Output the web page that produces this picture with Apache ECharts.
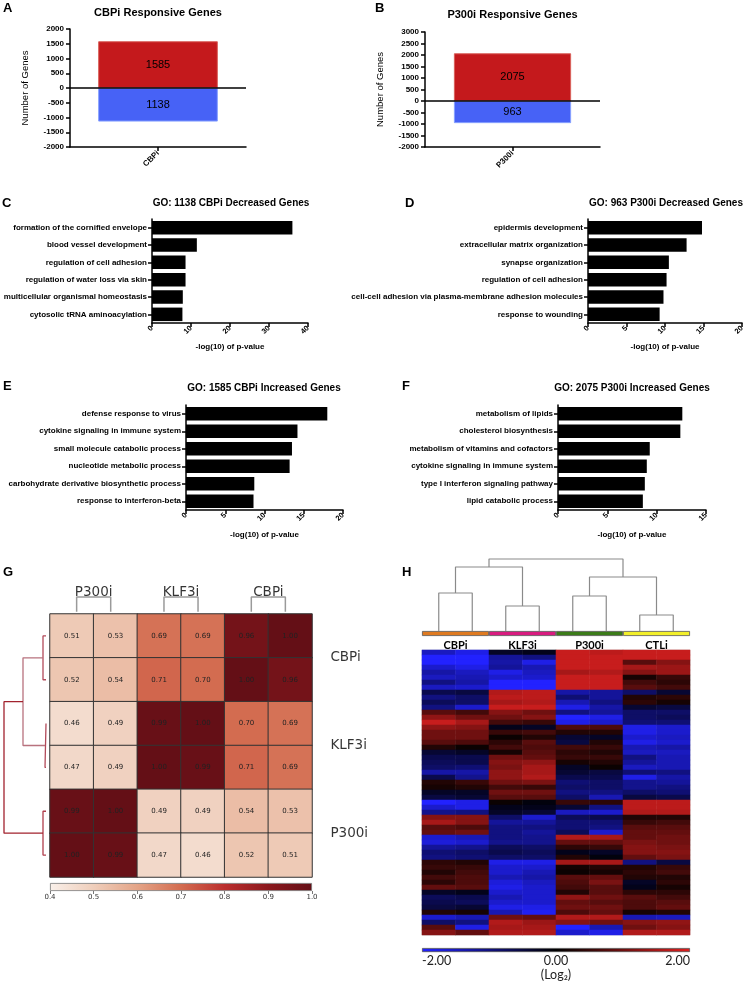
<!DOCTYPE html>
<html><head><meta charset="utf-8">
<script src="https://cdn.jsdelivr.net/npm/echarts@6/dist/echarts.min.js"></script>
<style>html,body{margin:0;padding:0;background:#fff}#c{width:747px;height:982px}</style>
</head><body><div id="c"></div>
<script>
// ---------------- DATA ----------------
const aCategories = ['CBPi'];
const aIncreased = [1585];
const aDecreased = [-1138];
const aRange = [-2000, 2000];

const bCategories = ['P300i'];
const bIncreased = [2075];
const bDecreased = [-963];
const bRange = [-2000, 3000];

const cTerms = ['formation of the cornified envelope','blood vessel development','regulation of cell adhesion','regulation of water loss via skin','multicellular organismal homeostasis','cytosolic tRNA aminoacylation'];
const cValues = [36.0, 11.5, 8.6, 8.6, 7.9, 7.8];
const dTerms = ['epidermis development','extracellular matrix organization','synapse organization','regulation of cell adhesion','cell-cell adhesion via plasma-membrane adhesion molecules','response to wounding'];
const dValues = [14.8, 12.8, 10.5, 10.2, 9.8, 9.3];
const eTerms = ['defense response to virus','cytokine signaling in immune system','small molecule catabolic process','nucleotide metabolic process','carbohydrate derivative biosynthetic process','response to interferon-beta'];
const eValues = [18.0, 14.2, 13.5, 13.2, 8.7, 8.6];
const fTerms = ['metabolism of lipids','cholesterol biosynthesis','metabolism of vitamins and cofactors','cytokine signaling in immune system','type I interferon signaling pathway','lipid catabolic process'];
const fValues = [12.6, 12.4, 9.3, 9.0, 8.8, 8.6];

const gColGroups = ['P300i','KLF3i','CBPi'];
const gRowGroups = ['CBPi','KLF3i','P300i'];
const gMatrix = [
  [0.51,0.53,0.69,0.69,0.96,1.00],
  [0.52,0.54,0.71,0.70,1.00,0.96],
  [0.46,0.49,0.99,1.00,0.70,0.69],
  [0.47,0.49,1.00,0.99,0.71,0.69],
  [0.99,1.00,0.49,0.49,0.54,0.53],
  [1.00,0.99,0.47,0.46,0.52,0.51]
];
// row dendrogram merges: [childA, childB, distance]; leaves 0..5
const gMerges = [[0,1,3],[2,3,1],[4,5,3],[6,7,23],[9,8,42]];
const gScale = [0.4, 1.0];

const hGroups = ['CBPi','KLF3i','P300i','CTLi'];
const hColumns = ['CBPi-1','CBPi-2','KLF3i-1','KLF3i-2','P300i-1','P300i-2','CTLi-1','CTLi-2'];
// column dendrogram merges: leaves 0..7
const hMerges = [[0,1,38],[2,3,25],[4,5,35],[6,7,16],[8,9,64],[10,11,54],[12,13,72]];
const hScale = [-2, 2];
const hRows = [
 [-1.5,-1.8,-0.3,-0.2,1.8,1.7,1.8,1.8],
 [-2,-2,-1.2,-1.0,1.8,1.8,1.8,1.8],
 [-2,-2,-1.3,-1.8,1.8,1.8,0.8,1.2],
 [-1.6,-1.8,-1.2,-1.4,1.8,1.8,1.5,1.4],
 [-1.3,-1.5,-1.8,-1.5,1.5,1.6,1.2,1.4],
 [-1.5,-1.4,-1.6,-1.6,1.8,1.8,0.2,0.5],
 [-1.0,-1.3,-2,-2,1.8,1.8,0.6,0.4],
 [-1.5,-1.6,-2,-2,1.8,1.8,0.8,0.6],
 [-0.6,-0.5,1.6,1.7,-1.3,-1.2,-0.8,-0.4],
 [-1.0,-0.8,1.7,1.7,-0.9,-1.2,0.3,0.4],
 [-0.7,-0.8,1.5,1.6,-1.4,-1.0,0.4,0.2],
 [-1.0,-1.6,1.8,1.8,-1.8,-1.3,-0.4,-0.5],
 [0.8,0.6,1.2,1.0,-1.0,-1.2,-0.8,-0.8],
 [1.3,1.0,1.0,1.2,-2,-1.8,-0.8,-0.7],
 [1.8,1.5,0.6,0.5,-1.8,-1.6,-0.9,-0.9],
 [1.3,1.2,-0.2,-0.3,0.7,0.7,-1.8,-1.6],
 [1.0,1.0,0.5,0.6,0.3,0.3,-1.8,-1.6],
 [1.0,1.0,0.1,0.3,-0.4,-0.3,-1.6,-1.5],
 [0.8,0.7,0.4,0.8,-0.5,0.3,-1.8,-1.6],
 [0.3,0.1,0.6,0.7,0.6,0.5,-1.4,-1.3],
 [-0.4,-0.3,0.2,0.8,0.4,0.3,-1.5,-1.5],
 [-0.6,-0.6,1.0,0.9,0.5,0.5,-1.0,-1.4],
 [-0.7,-0.6,1.2,1.3,0.2,0.3,-1.2,-1.4],
 [-0.8,-0.9,1.1,1.5,-0.3,0.1,-1.5,-1.4],
 [-1.3,-1.3,1.3,1.5,-0.4,-0.5,-0.9,-1.0],
 [-0.6,-1.1,1.3,1.6,-0.6,-0.6,-1.8,-1.3],
 [0.3,0.5,1.0,1.1,-0.9,-0.8,-1.1,-1.2],
 [0.2,0.3,0.6,0.5,-0.8,-0.8,-1.1,-1.0],
 [-0.3,-0.3,1.0,1.0,-1.0,-1.0,-0.8,-0.9],
 [-0.5,-0.4,0.8,0.8,-0.8,-1.4,-0.5,-0.6],
 [-2,-1.8,0.1,-0.1,0.5,0.4,1.7,1.7],
 [-1.6,-1.8,-0.2,-0.2,-0.4,-1.0,1.7,1.7],
 [-1.1,-1.0,-0.3,-0.4,-1.5,-1.6,1.6,1.6],
 [1.2,1.2,-0.8,-1.6,-0.7,-0.6,0.3,0.3],
 [1.5,1.2,-1.2,-1.2,-0.9,-0.9,0.5,0.6],
 [0.8,0.7,-1.0,-1.0,-0.9,-1.0,0.8,0.8],
 [0.9,1.0,-1.0,-1.2,-0.7,-1.6,0.9,0.9],
 [-1.6,-1.4,-1.0,-1.1,1.6,1.5,0.9,1.0],
 [-1.7,-1.6,-1.1,-1.1,0.9,0.9,1.1,1.0],
 [-1.2,-1.1,-0.7,-0.8,0.4,0.5,1.2,1.1],
 [-0.9,-0.8,-0.6,-0.7,-0.2,-0.3,1.2,1.2],
 [-1.0,-0.9,-0.8,-0.8,0.3,-0.1,0.9,1.1],
 [0.4,0.3,-1.8,-1.8,1.5,1.5,-1.0,-0.5],
 [0.5,0.5,-1.6,-1.6,0.2,0.3,0.3,0.5],
 [0.3,0.6,-1.6,-1.4,0.1,0.2,0.4,0.6],
 [0.6,0.7,-1.4,-1.3,0.8,0.9,0.3,0.3],
 [0.4,0.7,-1.7,-1.5,0.7,1.1,-0.3,0.4],
 [0.9,0.8,-1.8,-1.6,0.6,0.8,-0.2,0.2],
 [-0.3,-0.2,-1.6,-1.6,0.3,0.8,0.4,0.4],
 [-0.7,-0.6,-1.4,-1.6,1.3,1.0,0.8,0.6],
 [-0.6,-0.7,-1.6,-1.6,0.9,0.8,0.7,0.8],
 [-0.5,-0.4,-1.8,-1.8,1.0,1.0,0.7,0.9],
 [0.3,0.2,-1.4,-1.9,0.7,0.9,0.2,0.3],
 [-1.6,-1.4,1.0,0.9,1.6,1.6,-1.4,-1.5],
 [-0.8,-1.0,1.6,1.4,1.2,1.0,1.2,1.3],
 [0.8,-1.8,1.5,1.5,-2,-1.4,1.0,1.2],
 [1.2,0.9,1.6,1.6,-1.6,-1.8,1.6,1.6]
];

// ---------------- STYLE / BUILD ----------------
const F = '"Liberation Sans", Arial, sans-serif';
const DV = '"DejaVu Sans", sans-serif';
const LT = 'Lato, "Open Sans", sans-serif';
const gColors = ['#f9f0ea','#efcebb','#e4a487','#d36c50','#bb2e2e','#8b181d','#640f16'];
const hColors = ['#2222ff','#000000','#dd2020'];
const hGroupColors = ['#df7a20','#d81b7f','#3b7c19','#f2ef2a'];

const grid = [], xAxis = [], yAxis = [], series = [], graphic = [], visualMap = [];
const H = {show:false};
function addGrid(l,t,w,h,extra){ grid.push(Object.assign({left:l,top:t,width:w,height:h},extra||{})); return grid.length-1; }
function hx(gi,o){ return xAxis.push(Object.assign({gridIndex:gi,show:false},o))-1; }
function hy(gi,o){ return yAxis.push(Object.assign({gridIndex:gi,show:false},o))-1; }
const axLine = {show:true,onZero:false,lineStyle:{color:'#000',width:1.5}};
const axTick = {show:true,length:4,lineStyle:{color:'#000',width:1.5}};

function text(x,y,str,font,align,color){
  graphic.push({type:'text',x:x,y:y,silent:true,style:{text:str,font:font,fill:color||'#000',
    align:align||'center',verticalAlign:'middle',textAlign:align||'center',textVerticalAlign:'middle'}});
}

// A / B
function respPanel(l,t,w,h,cats,up,down,range,bw){
  const gi = addGrid(l,t,w,h);
  const xi = xAxis.push({type:'category',gridIndex:gi,data:cats,axisLine:axLine,
    axisTick:Object.assign({alignWithLabel:true},axTick),
    axisLabel:{rotate:45,fontFamily:F,fontWeight:'bold',fontSize:8,color:'#000',margin:5},splitLine:H})-1;
  const yi = yAxis.push({type:'value',gridIndex:gi,min:range[0],max:range[1],interval:500,axisLine:axLine,axisTick:axTick,
    axisLabel:{fontFamily:F,fontWeight:'bold',fontSize:8,color:'#000',margin:6,formatter:v=>String(v)},splitLine:H,
    name:'Number of Genes',nameLocation:'middle',nameGap:40,nameTextStyle:{fontFamily:F,fontSize:9.5,color:'#000'}})-1;
  const lab = {show:true,position:'inside',fontFamily:F,fontSize:11,color:'#000',formatter:p=>String(Math.abs(p.value))};
  series.push({type:'bar',xAxisIndex:xi,yAxisIndex:yi,data:up,barWidth:bw,barGap:'-100%',silent:true,
    itemStyle:{color:'#c4191c',borderColor:'#d9605a',borderWidth:1},label:lab});
  series.push({type:'bar',xAxisIndex:xi,yAxisIndex:yi,data:down,barWidth:bw,barGap:'-100%',silent:true,
    itemStyle:{color:'#4762f6',borderColor:'#86a0ff',borderWidth:1},label:lab,
    markLine:{silent:true,symbol:'none',label:{show:false},lineStyle:{color:'#000',width:1.5,type:'solid'},data:[{yAxis:0}]}});
}
respPanel(70,29,176,118,aCategories,aIncreased,aDecreased,aRange,'68%');
respPanel(425,32,175,115,bCategories,bIncreased,bDecreased,bRange,'67%');

// C-F
function goPanel(l,t,w,h,terms,vals,max,gap){
  const gi = addGrid(l,t,w,h);
  const xi = xAxis.push({type:'value',gridIndex:gi,min:0,max:max,interval:(max>=40?10:5),axisLine:axLine,axisTick:axTick,splitLine:H,
    axisLabel:{rotate:45,fontFamily:F,fontWeight:'bold',fontSize:7.5,color:'#000',margin:4},
    name:'-log(10) of p-value',nameLocation:'middle',nameGap:gap,nameTextStyle:{fontFamily:F,fontWeight:'bold',fontSize:8,color:'#000'}})-1;
  const yi = yAxis.push({type:'category',gridIndex:gi,data:terms,inverse:true,axisLine:axLine,
    axisTick:Object.assign({alignWithLabel:true},axTick),splitLine:H,
    axisLabel:{fontFamily:F,fontWeight:'bold',fontSize:8,color:'#000',margin:5}})-1;
  series.push({type:'bar',xAxisIndex:xi,yAxisIndex:yi,data:vals,barWidth:'78%',silent:true,itemStyle:{color:'#000'}});
}
goPanel(152,219,156,104,cTerms,cValues,40,20);
goPanel(588,219,155,104,dTerms,dValues,20,20);
goPanel(186,405,157,105,eTerms,eValues,20,21);
goPanel(558,405,148,105,fTerms,fValues,15,21);

// G heatmap
const gGrid = addGrid(50,614,262,263);
const gxi = xAxis.push({type:'category',gridIndex:gGrid,show:false,data:gMatrix[0].map((_,i)=>'c'+i)})-1;
const gyi = yAxis.push({type:'category',gridIndex:gGrid,show:false,inverse:true,data:gMatrix.map((_,i)=>'r'+i)})-1;
const gData = [];
gMatrix.forEach((row,r)=>row.forEach((v,c)=>gData.push([c,r,v])));
const gSeriesIdx = series.push({type:'heatmap',xAxisIndex:gxi,yAxisIndex:gyi,data:gData,silent:true,
  itemStyle:{borderColor:'#333',borderWidth:1},
  label:{show:true,formatter:p=>p.value[2].toFixed(2),fontFamily:DV,fontSize:7,color:'#222'}})-1;
visualMap.push({type:'continuous',show:false,min:gScale[0],max:gScale[1],dimension:2,seriesIndex:gSeriesIdx,inRange:{color:gColors}});

// G overlay: brackets & group labels
const gOv = addGrid(50,614,262,263);
const gox = hx(gOv,{type:'value',min:0,max:6});
const goy = hy(gOv,{type:'value',min:0,max:6,inverse:true});
const bracketStyle = {color:'#9a9a9a',width:1.5};
gColGroups.forEach((name,i)=>{
  const c = 2*i+1;
  series.push({type:'line',xAxisIndex:gox,yAxisIndex:goy,clip:false,silent:true,symbol:'none',lineStyle:bracketStyle,
    data:[[c-0.39,-0.05],[c-0.39,-0.39],[c+0.39,-0.39],[c+0.39,-0.05]]});
});
gRowGroups.forEach((name,i)=>{
  const r = 2*i+1;
  series.push({type:'line',xAxisIndex:gox,yAxisIndex:goy,clip:false,silent:true,symbol:'none',lineStyle:bracketStyle,
    data:[[6.07,r-0.377],[6.37,r-0.377],[6.37,r+0.377],[6.07,r+0.377]]});
});
series.push({type:'scatter',xAxisIndex:gox,yAxisIndex:goy,clip:false,silent:true,symbolSize:1,itemStyle:{color:'rgba(0,0,0,0)'},
  data:gColGroups.map((n,i)=>({name:n,value:[2*i+1,-0.5]})),
  label:{show:true,position:'inside',formatter:p=>p.name,fontFamily:DV,fontSize:13.5,color:'#000'}});
series.push({type:'scatter',xAxisIndex:gox,yAxisIndex:goy,clip:false,silent:true,symbolSize:1,itemStyle:{color:'rgba(0,0,0,0)'},
  data:gRowGroups.map((n,i)=>({name:n,value:[6.41,2*i+1]})),
  label:{show:true,position:'right',distance:0,formatter:p=>p.name,fontFamily:DV,fontSize:13.5,color:'#000'}});

// G dendrogram (rows)
const gDen = addGrid(4,614,42,263);
const gdx = hx(gDen,{type:'value',min:0,max:42,inverse:true});
const gdy = hy(gDen,{type:'value',min:0,max:6,inverse:true});
const gDenColors = ['#b24a5a','#b24a5a','#b03e4c','#b8727e','#a2232e'];
(function(){
  const pos = gMatrix.map((_,i)=>i+0.5), ht = gMatrix.map(()=>0);
  gMerges.forEach((m,i)=>{
    const [a,b,d] = m;
    series.push({type:'line',xAxisIndex:gdx,yAxisIndex:gdy,clip:false,silent:true,symbol:'none',
      lineStyle:{color:gDenColors[i],width:1.3},
      data:[[ht[a],pos[a]],[d,pos[a]],[d,pos[b]],[ht[b],pos[b]]]});
    pos.push((pos[a]+pos[b])/2); ht.push(d);
  });
})();

// G colour bar
const gCb = addGrid(50,883,262,8);
const gcbBar = xAxis.push({type:'value',gridIndex:gCb,show:false,min:0,max:1})-1;
xAxis.push({type:'value',gridIndex:gCb,min:gScale[0],max:gScale[1],interval:0.1,position:'bottom',
  axisLine:{show:false},axisTick:{show:true,length:3,lineStyle:{color:'#555',width:0.8}},splitLine:H,
  axisLabel:{fontFamily:DV,fontSize:7,color:'#333',margin:3,formatter:v=>v.toFixed(1)}});
const gcby = hy(gCb,{type:'category',data:['s']});
series.push({type:'bar',xAxisIndex:gcbBar,yAxisIndex:gcby,data:[1],barWidth:'100%',silent:true,
  itemStyle:{borderColor:'#777',borderWidth:0.8,color:new echarts.graphic.LinearGradient(0,0,1,0,
    gColors.map((c,i)=>({offset:i/(gColors.length-1),color:c})))}});

// H dendrogram (columns)
const hDen = addGrid(422,559,268,72);
const hdx = hx(hDen,{type:'value',min:0,max:hColumns.length});
const hdy = hy(hDen,{type:'value',min:0,max:72});
(function(){
  const pos = hColumns.map((_,i)=>i+0.5), ht = hColumns.map(()=>0);
  hMerges.forEach((m)=>{
    const [a,b,d] = m;
    series.push({type:'line',xAxisIndex:hdx,yAxisIndex:hdy,clip:false,silent:true,symbol:'none',
      lineStyle:{color:'#8a8a8a',width:1.2},
      data:[[pos[a],ht[a]],[pos[a],d],[pos[b],d],[pos[b],ht[b]]]});
    pos.push((pos[a]+pos[b])/2); ht.push(d);
  });
})();

// H group bar
const hGb = addGrid(422,631,268,5);
const hgx = xAxis.push({type:'category',gridIndex:hGb,data:hGroups,axisLine:H,axisTick:H,splitLine:H,
  axisLabel:{fontFamily:LT,fontWeight:'bold',fontSize:11,color:'#000',margin:4}})-1;
const hgy = hy(hGb,{type:'value',min:0,max:1});
series.push({type:'bar',xAxisIndex:hgx,yAxisIndex:hgy,barWidth:'100%',silent:true,
  data:hGroups.map((g,i)=>({value:1,itemStyle:{color:hGroupColors[i]}})),
  itemStyle:{borderColor:'#555',borderWidth:0.8}});

// H heatmap
const hHm = addGrid(422,650,268,285,{show:true,borderColor:'#d8d8d8',borderWidth:1,backgroundColor:'transparent'});
const hhx = xAxis.push({type:'category',gridIndex:hHm,show:false,data:hColumns})-1;
const hhy = yAxis.push({type:'category',gridIndex:hHm,show:false,inverse:true,data:hRows.map((_,i)=>'g'+i)})-1;
const hData = [];
hRows.forEach((row,r)=>row.forEach((v,c)=>hData.push([c,r,v])));
const hSeriesIdx = series.push({type:'heatmap',xAxisIndex:hhx,yAxisIndex:hhy,data:hData,silent:true,
  itemStyle:{borderWidth:0}})-1;
visualMap.push({type:'continuous',show:false,min:hScale[0],max:hScale[1],dimension:2,seriesIndex:hSeriesIdx,inRange:{color:hColors}});

// H colour bar
const hCb = addGrid(422,948,268,8);
const hcbBar = xAxis.push({type:'value',gridIndex:hCb,show:false,min:0,max:1})-1;
xAxis.push({type:'value',gridIndex:hCb,min:hScale[0],max:hScale[1],interval:2,position:'bottom',
  axisLine:{show:false},axisTick:{show:false},splitLine:H,
  axisLabel:{fontFamily:LT,fontSize:12.5,color:'#222',margin:2,formatter:v=>v.toFixed(2),alignMinLabel:'left',alignMaxLabel:'right'},
  name:'(Log\u2082)',nameLocation:'middle',nameGap:13,nameTextStyle:{fontFamily:LT,fontSize:12.5,color:'#222'}});
const hcby = hy(hCb,{type:'category',data:['s']});
series.push({type:'bar',xAxisIndex:hcbBar,yAxisIndex:hcby,data:[1],barWidth:'100%',silent:true,
  itemStyle:{borderColor:'#555',borderWidth:0.8,color:new echarts.graphic.LinearGradient(0,0,1,0,
    hColors.map((c,i)=>({offset:i/(hColors.length-1),color:c})))}});

// Titles & panel letters
const bold13 = 'bold 13px ' + F, bold11 = 'bold 11px ' + F, bold10 = 'bold 10px ' + F;
text(3,8,'A',bold13,'left'); text(375,8,'B',bold13,'left');
text(2,203,'C',bold13,'left'); text(405,203,'D',bold13,'left');
text(3,386,'E',bold13,'left'); text(402,386,'F',bold13,'left');
text(3,572,'G',bold13,'left'); text(402,572,'H',bold13,'left');
text(158,12.5,'CBPi Responsive Genes',bold11);
text(512.5,15,'P300i Responsive Genes',bold11);
text(231,203,'GO: 1138 CBPi Decreased Genes',bold10);
text(666,203,'GO: 963 P300i Decreased Genes',bold10);
text(264,388,'GO: 1585 CBPi Increased Genes',bold10);
text(632,388,'GO: 2075 P300i Increased Genes',bold10);

const chart = echarts.init(document.getElementById('c'),null,{renderer:'canvas'});
chart.setOption({animation:false,backgroundColor:'#fff',grid,xAxis,yAxis,series,visualMap,graphic});
</script></body></html>
